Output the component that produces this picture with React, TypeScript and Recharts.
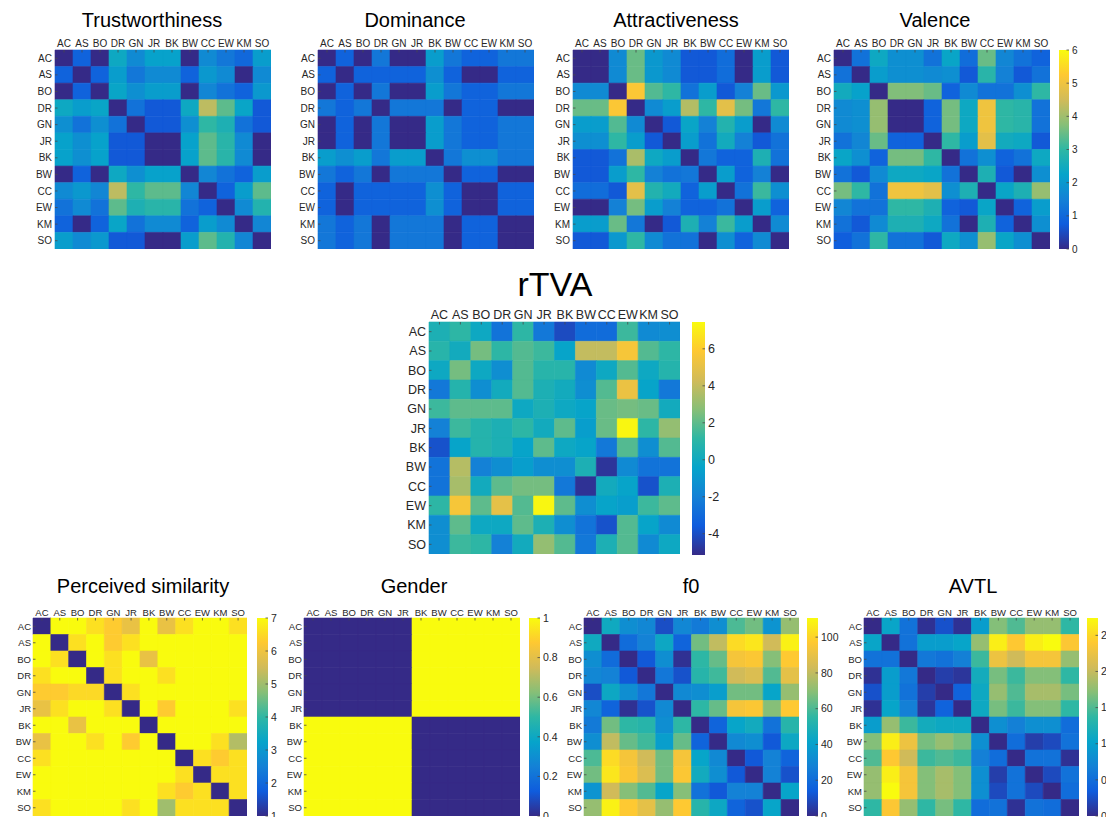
import React from 'react';
import { BarChart, Bar, XAxis, YAxis, Cell } from 'recharts';

const ROWS = ['AC', 'AS', 'BO', 'DR', 'GN', 'JR', 'BK', 'BW', 'CC', 'EW', 'KM', 'SO'];
const COLS = ['AC', 'AS', 'BO', 'DR', 'GN', 'JR', 'BK', 'BW', 'CC', 'EW', 'KM', 'SO'];
const ROW_TICKS = [0.5, 1.5, 2.5, 3.5, 4.5, 5.5, 6.5, 7.5, 8.5, 9.5, 10.5, 11.5];

// Top row (shared 0..6 scale)
const TRUST = [
  [0.0, 0.9, 0.0, 2.4, 1.7, 2.2, 2.2, 0.0, 1.7, 1.3, 1.0, 2.1],
  [0.9, 0.0, 0.9, 2.1, 1.3, 1.7, 1.7, 0.9, 2.0, 1.7, 0.0, 1.7],
  [0.0, 0.9, 0.0, 2.3, 1.8, 2.1, 2.1, 0.0, 1.6, 1.2, 0.9, 2.0],
  [2.4, 2.1, 2.3, 0.0, 1.2, 0.7, 0.7, 2.4, 4.3, 3.4, 2.3, 0.7],
  [1.8, 1.2, 1.8, 1.2, 0.0, 0.7, 0.7, 1.8, 3.0, 2.7, 1.2, 0.7],
  [2.2, 1.8, 2.2, 0.7, 0.7, 0.0, 0.0, 2.2, 3.4, 2.9, 1.7, 0.0],
  [2.2, 1.8, 2.2, 0.7, 0.7, 0.0, 0.0, 2.2, 3.4, 2.9, 1.7, 0.0],
  [0.0, 0.9, 0.0, 2.4, 1.8, 2.2, 2.2, 0.0, 1.6, 1.2, 0.9, 2.1],
  [1.7, 2.0, 1.6, 4.3, 3.0, 3.4, 3.4, 1.6, 0.0, 0.9, 2.1, 3.4],
  [1.2, 1.7, 1.2, 3.4, 2.7, 2.9, 2.9, 1.2, 0.9, 0.0, 1.7, 2.8],
  [0.9, 0.0, 0.9, 2.3, 1.2, 1.7, 1.7, 0.9, 2.1, 1.7, 0.0, 1.6],
  [2.1, 1.7, 2.0, 0.7, 0.7, 0.0, 0.0, 2.1, 3.4, 2.8, 1.6, 0.0],
];

const DOMINANCE = [
  [0.0, 0.9, 0.0, 1.3, 0.0, 0.0, 2.1, 1.3, 0.9, 0.9, 1.3, 1.3],
  [0.9, 0.0, 0.9, 0.9, 0.9, 0.9, 1.8, 0.9, 0.0, 0.0, 0.9, 0.9],
  [0.0, 0.9, 0.0, 1.3, 0.0, 0.0, 2.1, 1.3, 0.9, 0.9, 1.3, 1.3],
  [1.3, 0.9, 1.3, 0.0, 1.3, 1.3, 1.3, 0.0, 0.9, 0.9, 0.0, 0.0],
  [0.0, 0.9, 0.0, 1.3, 0.0, 0.0, 2.1, 1.3, 0.9, 0.9, 1.3, 1.3],
  [0.0, 0.9, 0.0, 1.3, 0.0, 0.0, 2.1, 1.3, 0.9, 0.9, 1.3, 1.3],
  [2.1, 1.8, 2.1, 1.3, 2.1, 2.1, 0.0, 1.3, 1.8, 1.8, 1.3, 1.3],
  [1.3, 0.9, 1.3, 0.0, 1.3, 1.3, 1.3, 0.0, 0.9, 0.9, 0.0, 0.0],
  [0.9, 0.0, 0.9, 0.9, 0.9, 0.9, 1.8, 0.9, 0.0, 0.0, 0.9, 0.9],
  [0.9, 0.0, 0.9, 0.9, 0.9, 0.9, 1.8, 0.9, 0.0, 0.0, 0.9, 0.9],
  [1.3, 0.9, 1.3, 0.0, 1.3, 1.3, 1.3, 0.0, 0.9, 0.9, 0.0, 0.0],
  [1.3, 0.9, 1.3, 0.0, 1.3, 1.3, 1.3, 0.0, 0.9, 0.9, 0.0, 0.0],
];

const ATTRACT = [
  [0.0, 0.0, 1.7, 3.5, 2.0, 1.7, 0.7, 0.7, 1.1, 0.0, 2.1, 0.7],
  [0.0, 0.0, 1.7, 3.5, 2.0, 1.7, 0.7, 0.7, 1.1, 0.0, 2.1, 0.7],
  [1.7, 1.7, 0.0, 5.2, 3.3, 3.0, 1.2, 2.1, 0.7, 1.5, 3.5, 2.0],
  [3.5, 3.5, 5.2, 0.0, 1.7, 2.1, 4.2, 3.0, 4.8, 3.6, 1.3, 3.0],
  [2.1, 2.1, 3.3, 1.7, 0.0, 0.7, 2.3, 1.5, 2.8, 2.1, 0.0, 1.7],
  [1.8, 1.8, 3.0, 2.1, 0.7, 0.0, 2.1, 1.2, 2.5, 1.5, 0.7, 1.2],
  [0.7, 0.7, 1.2, 4.1, 2.4, 2.1, 0.0, 1.3, 0.9, 0.9, 2.7, 1.2],
  [0.7, 0.7, 2.1, 3.0, 1.5, 1.2, 1.3, 0.0, 2.1, 0.9, 1.5, 0.0],
  [1.1, 1.1, 0.7, 4.8, 2.8, 2.5, 0.9, 2.1, 0.0, 1.2, 3.1, 1.8],
  [0.0, 0.0, 1.5, 3.6, 2.1, 1.5, 0.9, 0.9, 1.2, 0.0, 2.1, 0.9],
  [2.1, 2.1, 3.5, 1.3, 0.0, 0.7, 2.7, 1.5, 3.1, 2.1, 0.0, 1.7],
  [0.7, 0.7, 2.0, 3.0, 1.7, 1.2, 1.2, 0.0, 1.8, 0.9, 1.7, 0.0],
];

const VALENCE = [
  [0.0, 1.2, 2.4, 1.8, 1.8, 1.2, 2.3, 1.1, 3.5, 1.6, 1.2, 0.9],
  [1.2, 0.0, 2.1, 1.8, 1.8, 1.7, 1.8, 0.7, 2.9, 1.5, 0.7, 1.2],
  [2.5, 2.2, 0.0, 3.7, 3.7, 3.5, 0.9, 1.7, 1.2, 1.2, 1.8, 3.0],
  [1.7, 1.8, 3.9, 0.0, 0.0, 0.9, 3.6, 2.4, 5.0, 3.0, 2.9, 1.2],
  [1.7, 1.8, 3.9, 0.0, 0.0, 0.9, 3.6, 2.4, 5.0, 3.0, 2.9, 1.2],
  [1.2, 1.6, 3.5, 0.9, 0.9, 0.0, 3.0, 2.1, 4.8, 2.5, 2.4, 0.7],
  [2.3, 1.8, 0.9, 3.6, 3.6, 3.0, 0.0, 1.2, 1.8, 0.9, 1.2, 2.4],
  [1.2, 0.7, 1.7, 2.4, 2.4, 2.3, 1.2, 0.0, 2.7, 0.7, 0.0, 1.8],
  [3.6, 3.0, 1.2, 5.0, 5.0, 4.8, 1.8, 2.7, 0.0, 2.3, 2.7, 3.9],
  [1.6, 1.2, 1.2, 3.0, 3.0, 2.7, 0.9, 0.7, 2.3, 0.0, 0.9, 2.1],
  [1.2, 0.7, 1.7, 2.7, 2.7, 2.4, 1.2, 0.0, 2.7, 0.9, 0.0, 1.8],
  [0.8, 1.2, 3.0, 1.2, 1.2, 0.7, 2.4, 1.8, 3.9, 2.3, 1.8, 0.0],
];

// rTVA (-5.15 .. 7.45)
const RTVA = [
  [0.5, 1.1, -0.1, -2.6, 1.1, -2.4, -4.1, -2.9, -2.9, 1.4, -1.6, -1.4],
  [0.9, 0.1, 2.4, 1.1, 1.8, 1.4, -0.4, 4.0, 4.0, 5.6, 1.8, 1.1],
  [-0.1, 2.4, -0.1, -1.4, 1.8, 0.9, 0.9, -1.6, -0.1, 1.8, -0.1, 0.8],
  [-2.4, 0.8, -1.4, 0.1, 1.8, 0.5, 0.1, -1.4, 1.8, 5.2, -0.4, -2.4],
  [1.4, 2.0, 2.0, 2.0, -0.1, 0.5, -0.1, -0.4, 2.2, 2.4, 2.2, 0.1],
  [-2.0, 1.4, 0.8, 0.5, 1.1, 0.1, 2.0, -0.7, 2.2, 7.3, 1.1, 3.0],
  [-3.9, -0.4, 0.8, 0.5, -0.4, 2.0, -0.1, -0.4, -2.4, 1.8, -1.4, 1.8],
  [-2.6, 3.7, -2.0, -1.4, -0.7, -1.4, -1.4, 0.5, -4.8, -1.6, -2.6, -2.6],
  [-2.6, 3.4, 0.1, 2.0, 2.4, 2.4, -2.4, -4.9, 0.1, -0.4, -3.9, 0.5],
  [1.1, 5.6, 2.0, 5.0, 1.8, 7.3, 2.0, -1.4, -0.4, -0.7, 1.4, 2.0],
  [-1.4, 2.0, -0.1, -0.1, 2.0, 0.5, -1.4, -2.6, -3.9, 1.8, -0.4, -1.6],
  [-1.4, 1.4, 1.1, -2.0, 0.1, 3.0, 1.8, -2.4, 0.5, 1.8, -1.6, -0.1],
];

// Perceived similarity (1 .. 7)
const SIMILARITY = [
  [1, 7, 7, 6.6, 6.3, 5.9, 7, 5.9, 6.6, 7, 7, 6.6],
  [7, 1, 6.6, 7, 6.3, 6.6, 7, 7, 7, 7, 7, 7],
  [7, 6.6, 1, 7, 6.6, 7, 5.9, 7, 7, 7, 7, 7],
  [6.6, 7, 7, 1, 6.6, 7, 7, 6.6, 7, 7, 7, 7],
  [6.3, 6.3, 6.5, 6.5, 1, 6.6, 7, 7, 7, 7, 7, 7],
  [5.9, 6.6, 7, 7, 6.6, 1, 7, 6.3, 7, 7, 7, 6.6],
  [7, 7, 5.9, 7, 7, 7, 1, 7, 7, 7, 7, 7],
  [5.9, 7, 7, 6.6, 7, 6.3, 7, 1, 7, 7, 6.6, 5.2],
  [6.6, 7, 7, 7, 7, 7, 7, 7, 1, 6.6, 6.3, 6.6],
  [7, 7, 7, 7, 7, 7, 7, 7, 6.6, 1, 6.6, 6.6],
  [7, 7, 7, 7, 7, 7, 7, 6.6, 6.3, 6.6, 1, 6.6],
  [6.6, 7, 7, 7, 7, 6.6, 7, 5.0, 6.6, 6.6, 6.6, 1],
];

// Gender (0 .. 1)
const GENDER = [
  [0, 0, 0, 0, 0, 0, 1, 1, 1, 1, 1, 1],
  [0, 0, 0, 0, 0, 0, 1, 1, 1, 1, 1, 1],
  [0, 0, 0, 0, 0, 0, 1, 1, 1, 1, 1, 1],
  [0, 0, 0, 0, 0, 0, 1, 1, 1, 1, 1, 1],
  [0, 0, 0, 0, 0, 0, 1, 1, 1, 1, 1, 1],
  [0, 0, 0, 0, 0, 0, 1, 1, 1, 1, 1, 1],
  [1, 1, 1, 1, 1, 1, 0, 0, 0, 0, 0, 0],
  [1, 1, 1, 1, 1, 1, 0, 0, 0, 0, 0, 0],
  [1, 1, 1, 1, 1, 1, 0, 0, 0, 0, 0, 0],
  [1, 1, 1, 1, 1, 1, 0, 0, 0, 0, 0, 0],
  [1, 1, 1, 1, 1, 1, 0, 0, 0, 0, 0, 0],
  [1, 1, 1, 1, 1, 1, 0, 0, 0, 0, 0, 0],
];

// f0 (0 .. ~110)
const F0 = [
  [0, 45, 33, 30, 10, 30, 25, 33, 60, 66, 35, 72],
  [45, 0, 20, 28, 44, 17, 66, 80, 102, 105, 83, 108],
  [33, 20, 0, 13, 33, 2, 55, 64, 94, 96, 69, 97],
  [30, 28, 13, 0, 24, 11, 53, 58, 83, 86, 61, 89],
  [10, 44, 33, 24, 0, 31, 33, 39, 66, 66, 42, 72],
  [30, 17, 2, 11, 31, 0, 55, 64, 94, 96, 69, 97],
  [25, 66, 55, 53, 33, 55, 0, 17, 42, 46, 22, 53],
  [33, 80, 64, 58, 39, 64, 17, 0, 31, 33, 13, 44],
  [60, 102, 94, 83, 66, 94, 42, 31, 0, 13, 28, 17],
  [66, 105, 96, 86, 66, 96, 46, 33, 13, 0, 28, 11],
  [35, 83, 69, 61, 42, 69, 22, 13, 28, 28, 0, 42],
  [72, 108, 97, 89, 72, 97, 53, 44, 17, 11, 42, 0],
];

// AVTL (0 .. ~2.74)
const AVTL = [
  [0, 1.05, 0.55, 0.05, 0.27, 0.05, 0.96, 1.7, 1.5, 1.78, 1.78, 1.37],
  [1.05, 0, 0.55, 0.96, 0.96, 1.04, 1.78, 2.65, 2.4, 2.65, 2.74, 2.38],
  [0.55, 0.55, 0, 0.6, 0.55, 0.68, 1.42, 2.27, 2.05, 2.33, 2.33, 1.78],
  [0.05, 0.96, 0.6, 0, 0.14, 0.08, 1.15, 1.65, 1.42, 1.7, 1.7, 1.37],
  [0.27, 0.96, 0.55, 0.14, 0, 0.41, 1.1, 1.78, 1.5, 1.86, 1.86, 1.65],
  [0.05, 1.04, 0.68, 0.08, 0.41, 0, 1.1, 1.65, 1.42, 1.7, 1.7, 1.37],
  [0.96, 1.78, 1.42, 1.15, 1.1, 1.1, 0, 0.82, 0.68, 0.82, 0.82, 0.5],
  [1.7, 2.65, 2.27, 1.65, 1.78, 1.65, 0.82, 0, 0.5, 0.14, 0.22, 0.55],
  [1.5, 2.4, 2.05, 1.42, 1.5, 1.42, 0.68, 0.5, 0, 0.55, 0.55, 0.05],
  [1.78, 2.65, 2.33, 1.7, 1.86, 1.7, 0.82, 0.14, 0.55, 0, 0.22, 0.55],
  [1.78, 2.74, 2.33, 1.7, 1.86, 1.7, 0.82, 0.22, 0.55, 0.22, 0, 0.5],
  [1.37, 2.38, 1.78, 1.37, 1.65, 1.37, 0.5, 0.55, 0.05, 0.55, 0.5, 0],
];

const VALENCE_TICKS = [0, 1, 2, 3, 4, 5, 6];
const RTVA_TICKS = [-4, -2, 0, 2, 4, 6];
const SIM_TICKS = [1, 2, 3, 4, 5, 6, 7];
const GENDER_TICKS = [0, 0.2, 0.4, 0.6, 0.8, 1];
const F0_TICKS = [0, 20, 40, 60, 80, 100];
const AVTL_TICKS = [0, 0.5, 1, 1.5, 2, 2.5];

const PARULA = ['#352A87', '#0F5CDD', '#1481D6', '#06A4CA', '#2EB7A4', '#87BF77', '#D1BB59', '#FEC832', '#F9FB0E'];
const FONT = '"Liberation Sans", Arial, Helvetica, sans-serif';
const LABEL = '#262626';
const TICK_STROKE = '#4a4a4a';

function hexToRgb(h: string) {
  const n = parseInt(h.slice(1), 16);
  return [(n >> 16) & 255, (n >> 8) & 255, n & 255];
}
function colorFor(v: number, min: number, max: number) {
  let t = (v - min) / (max - min);
  t = Math.max(0, Math.min(1, t));
  const f = t * (PARULA.length - 1);
  const i = Math.min(PARULA.length - 2, Math.floor(f));
  const u = f - i;
  const a = hexToRgb(PARULA[i]);
  const b = hexToRgb(PARULA[i + 1]);
  const c = a.map((x, k) => Math.round(x + (b[k] - x) * u));
  return `rgb(${c[0]},${c[1]},${c[2]})`;
}

const UNIT = 1;
const blank = () => '';

type HMProps = {
  matrix: number[][]; min: number; max: number;
  left: number; top: number; w: number; h: number;
  yw: number; xh: number; font: number; tm: number;
};

function HeatMap({ matrix, min, max, left, top, w, h, yw, xh, font, tm }: HMProps) {
  const data = COLS.map((c) => {
    const o: any = { col: c };
    ROWS.forEach((_, i) => { o['r' + i] = UNIT; });
    return o;
  });
  const tick = { fontSize: font, fill: LABEL, fontFamily: FONT };
  const tl = { stroke: TICK_STROKE, strokeWidth: 0.8 };
  const ts = -2.5;
  return (
    <div style={{ position: 'absolute', left: left - yw, top: top - xh }}>
      <BarChart width={w + yw} height={h + xh} data={data} margin={{ top: 0, right: 0, bottom: 0, left: 0 }} barCategoryGap={0} barGap={0}>
        {ROWS.map((r, i) => (
          <Bar key={r} dataKey={'r' + i} stackId="s" isAnimationActive={false}>
            {COLS.map((c, j) => {
              const col = colorFor(matrix[i][j], min, max);
              return <Cell key={c} fill={col} stroke={col} strokeWidth={0.6} />;
            })}
          </Bar>
        ))}
        <XAxis dataKey="col" type="category" orientation="top" height={xh} interval={0} tickLine={tl} axisLine={false} tickSize={ts} tickMargin={tm - ts} tick={tick} />
        <XAxis xAxisId="b" dataKey="col" type="category" orientation="bottom" height={0} interval={0} tickLine={tl} axisLine={false} tickSize={ts} tickMargin={0} tickFormatter={blank} />
        <YAxis type="number" domain={[0, 12]} reversed ticks={ROW_TICKS} interval={0} tickFormatter={(v: number) => ROWS[Math.floor(v)]} width={yw} tickLine={tl} axisLine={false} tickSize={ts} tickMargin={tm - ts} tick={tick} />
        <YAxis yAxisId="r" type="number" orientation="right" domain={[0, 12]} reversed ticks={ROW_TICKS} interval={0} width={0} tickLine={tl} axisLine={false} tickSize={ts} tickMargin={0} tickFormatter={blank} />
      </BarChart>
    </div>
  );
}

type CBProps = { id: string; min: number; max: number; ticks: number[]; left: number; top: number; w: number; h: number; font: number };

function ColorBar({ id, min, max, ticks, left, top, w, h, font }: CBProps) {
  const data = [{ k: 'cb', range: [min, max] }];
  const pad = 10;
  return (
    <div style={{ position: 'absolute', left, top: top - pad }}>
      <BarChart width={w + 40} height={h + 2 * pad} data={data} margin={{ top: pad, right: 0, bottom: pad, left: 0 }} barCategoryGap={0}>
        <defs>
          <linearGradient id={id} x1="0" y1="1" x2="0" y2="0">
            {PARULA.map((c, i) => <stop key={i} offset={i / (PARULA.length - 1)} stopColor={c} />)}
          </linearGradient>
        </defs>
        <XAxis dataKey="k" hide />
        <Bar dataKey="range" fill={`url(#${id})`} isAnimationActive={false} />
        <YAxis type="number" domain={[min, max]} orientation="right" ticks={ticks} interval={0} width={40} tickLine={{ stroke: TICK_STROKE, strokeWidth: 0.8 }} axisLine={false} tickSize={-2.5} tickMargin={5.5} allowDataOverflow tick={{ fontSize: font, fill: LABEL, fontFamily: FONT }} />
      </BarChart>
    </div>
  );
}

function Title({ text, cx, cy, size }: { text: string; cx: number; cy: number; size: number }) {
  const h = size * 1.4;
  return (
    <div style={{ position: 'absolute', left: cx - 200, width: 400, top: cy - h / 2, height: h, lineHeight: `${h}px`, fontSize: size, fontFamily: FONT, color: '#000', textAlign: 'center', whiteSpace: 'nowrap' }}>
      {text}
    </div>
  );
}

export default function App() {
  const top = { yw: 30, xh: 16, font: 10, tm: 3, top: 50, h: 199 };
  const bot = { yw: 30, xh: 16, font: 9.5, tm: 2, top: 618, h: 198 };
  return (
    <div style={{ position: 'absolute', left: 0, top: 0, width: 1106, height: 817, overflow: 'hidden', background: '#fff' }}>
      <Title text="Trustworthiness" cx={152} cy={20} size={20} />
      <Title text="Dominance" cx={415} cy={20} size={20} />
      <Title text="Attractiveness" cx={676} cy={20} size={20} />
      <Title text="Valence" cx={935} cy={20} size={20} />
      <HeatMap matrix={TRUST} min={0} max={6} left={55} w={216} {...top} />
      <HeatMap matrix={DOMINANCE} min={0} max={6} left={318} w={216} {...top} />
      <HeatMap matrix={ATTRACT} min={0} max={6} left={573} w={216} {...top} />
      <HeatMap matrix={VALENCE} min={0} max={6} left={834} w={216} {...top} />
      <ColorBar id="cbVal" min={0} max={6} ticks={VALENCE_TICKS} left={1059} top={50} w={10} h={199} font={10} />

      <Title text="rTVA" cx={555} cy={285} size={34} />
      <HeatMap matrix={RTVA} min={-5.15} max={7.45} left={429} top={322} w={251} h={232} yw={40} xh={20} font={12.5} tm={3} />
      <ColorBar id="cbRtva" min={-5.15} max={7.45} ticks={RTVA_TICKS} left={692} top={322} w={13} h={233} font={12.5} />

      <Title text="Perceived similarity" cx={143} cy={586} size={20} />
      <Title text="Gender" cx={414} cy={586} size={20} />
      <Title text="f0" cx={691} cy={586} size={20} />
      <Title text="AVTL" cx={973} cy={586} size={20} />
      <HeatMap matrix={SIMILARITY} min={1} max={7} left={33} w={214} {...bot} />
      <HeatMap matrix={GENDER} min={0} max={1} left={304} w={216} {...bot} />
      <HeatMap matrix={F0} min={0} max={110.7} left={584} w={215} {...bot} />
      <HeatMap matrix={AVTL} min={0} max={2.74} left={864} w={215} {...bot} />
      <ColorBar id="cbSim" min={1} max={7} ticks={SIM_TICKS} left={257} top={618} w={11} h={198} font={10.5} />
      <ColorBar id="cbGen" min={0} max={1} ticks={GENDER_TICKS} left={529} top={618} w={11} h={198} font={10.5} />
      <ColorBar id="cbF0" min={0} max={110.7} ticks={F0_TICKS} left={807} top={618} w={11} h={198} font={10.5} />
      <ColorBar id="cbAvtl" min={0} max={2.74} ticks={AVTL_TICKS} left={1087} top={618} w={11} h={198} font={10.5} />
    </div>
  );
}
